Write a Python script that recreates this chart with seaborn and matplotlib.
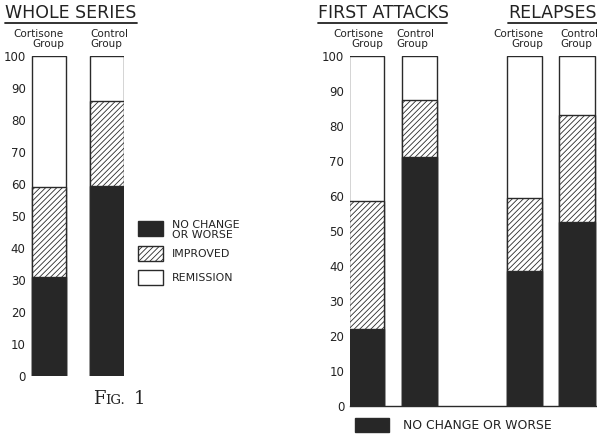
import numpy as np
import pandas as pd
import matplotlib.pyplot as plt
from matplotlib.patches import Rectangle
from matplotlib.lines import Line2D
import seaborn as sns

sns.set_style("white")
plt.rcParams['font.family'] = ['DejaVu Sans']
plt.rcParams['hatch.linewidth'] = 0.6

W, H = 597, 436

# values (percent of patients)
whole_groups = ["Cortisone", "Control"]
whole_no_change = [31, 59.5]
whole_improved = [28, 26.5]

split_groups = ["FA Cortisone", "FA Control", "gap", "R Cortisone", "R Control"]
split_present = ["FA Cortisone", "FA Control", "R Cortisone", "R Control"]
split_no_change = [22, 71, 38.5, 52.5]
split_improved = [36.5, 16.5, 21, 30.5]

DARK = '#272727'
EDGE = '#2a2a2a'
HATCH = '//////'


def fx(px):
    return px / W


def fy(py):
    return 1 - py / H


def stacked(ax, groups, no_change, improved, order, width):
    df = pd.DataFrame({
        'group': groups,
        'total': 100.0,
        'upper': np.array(no_change) + np.array(improved),
        'lower': no_change,
    })
    common = dict(x='group', order=order, width=width, saturation=1,
                  edgecolor=EDGE, linewidth=1.0, errorbar=None, ax=ax)
    sns.barplot(data=df, y='total', color='white', **common)
    sns.barplot(data=df, y='upper', color='white', hatch=HATCH, **common)
    sns.barplot(data=df, y='lower', color=DARK, **common)
    ax.set_ylim(0, 100)
    ax.set_yticks(range(0, 101, 10))
    ax.set_xticks([])
    ax.set_xlabel('')
    ax.set_ylabel('')
    ax.tick_params(axis='y', length=3, width=1, pad=1, labelsize=8.5, colors='#222')
    for s in ax.spines.values():
        s.set_visible(False)


fig = plt.figure(figsize=(W / 100, H / 100), dpi=100)

# left panel: whole series
axl = fig.add_axes([fx(31.3), fy(376), fx(92.8), 320 / H])
stacked(axl, whole_groups, whole_no_change, whole_improved, whole_groups, 0.59)
axl.set_xlim(-0.3, 1.3)

# right panel: first attacks and relapses
axr = fig.add_axes([fx(349.7), fy(405.5), fx(247.3), 349.5 / H])
stacked(axr, split_present, split_no_change, split_improved, split_groups, 0.67)
axr.set_xlim(-0.32, 4.38)
axr.spines['bottom'].set_visible(True)
axr.spines['bottom'].set_color(EDGE)
axr.spines['bottom'].set_linewidth(1.0)


def heading(text, xc, x0, x1):
    fig.text(fx(xc), fy(13), text, ha='center', va='center', fontsize=12.5, color='#222')
    fig.add_artist(Line2D([fx(x0), fx(x1)], [fy(23), fy(23)], color='#222', lw=1.3))


heading("WHOLE SERIES", 71, 5, 137)
heading("FIRST ATTACKS", 383, 318, 447)
heading("RELAPSES", 553, 508, 600)


def group_label(text, x, ha):
    fig.text(fx(x), fy(39), text, ha=ha, va='center', fontsize=7.5,
             linespacing=1.05, color='#222', multialignment=ha)


group_label("Cortisone\nGroup", 64, 'right')
group_label("Control\nGroup", 90, 'left')
group_label("Cortisone\nGroup", 383, 'right')
group_label("Control\nGroup", 396, 'left')
group_label("Cortisone\nGroup", 543, 'right')
group_label("Control\nGroup", 560, 'left')

# key in left panel
keys = [(221, DARK, None, "NO CHANGE\nOR WORSE", 230),
        (246, 'white', HATCH, "IMPROVED", 254),
        (270, 'white', None, "REMISSION", 278)]
for top, fc, hatch, label, ty in keys:
    fig.add_artist(Rectangle((fx(138), fy(top + 15)), fx(25), 15 / H, facecolor=fc,
                             edgecolor=EDGE, lw=1.0, hatch=hatch))
    fig.text(fx(172), fy(ty), label, ha='left', va='center', fontsize=7.9,
             linespacing=0.9, color='#222')

# key below right panel
fig.add_artist(Rectangle((fx(355), fy(432)), fx(34), 14 / H, facecolor=DARK,
                         edgecolor=EDGE, lw=1.0))
fig.text(fx(403), fy(425), "NO CHANGE OR WORSE", ha='left', va='center',
         fontsize=8.9, color='#222')

# figure caption
fig.text(fx(93), fy(399), "F", ha='left', va='center', fontsize=13,
         family='DejaVu Serif', color='#222')
fig.text(fx(105), fy(400.5), "IG.", ha='left', va='center', fontsize=9.5,
         family='DejaVu Serif', color='#222')
fig.text(fx(134), fy(399), "1", ha='left', va='center', fontsize=13,
         family='DejaVu Serif', color='#222')

fig.savefig('out.png', dpi=100)
